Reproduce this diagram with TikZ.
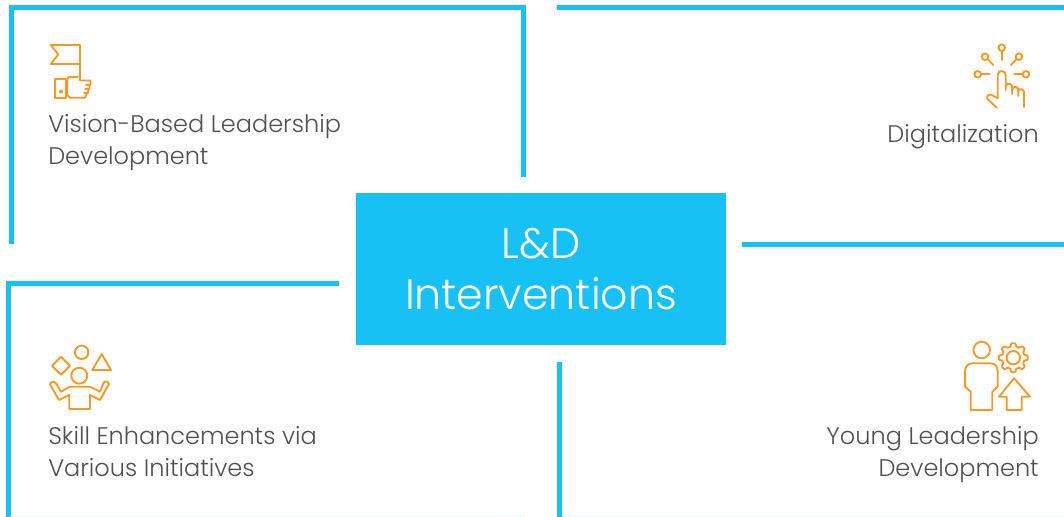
\documentclass[tikz,border=0pt]{standalone}
\usepackage{fontspec}
\setmainfont{Poppins Light}
\usetikzlibrary{positioning}
\definecolor{monCyan}{RGB}{23,193,244}
\definecolor{monOrange}{RGB}{247,152,36}
\definecolor{monGris}{RGB}{80,80,80}
\tikzstyle{frame} = [draw=monCyan, line width=3.75pt]
\tikzstyle{faint} = [draw=monCyan!12, line width=1pt]
\tikzstyle{icon} = [draw=monOrange, line width=1.4pt, line join=round, line cap=round]
\tikzstyle{centre} = [fill=monCyan, text=white, minimum width=277.5pt, minimum height=114pt, inner sep=0pt, align=center, font=\fontsize{32}{38}\selectfont]
\tikzstyle{theme} = [text=monGris, inner sep=0pt, font=\fontsize{18}{24}\selectfont]

\begin{document}
\begin{tikzpicture}[x=0.75pt, y=-0.75pt]
    \useasboundingbox (0,0) rectangle (1064,517);
    % frames
    \draw[frame] (11,244) -- (11,8) -- (523,8) -- (523,177);
    \draw[frame] (557,8) -- (1064,8);
    \draw[frame] (742,244) -- (1064,244);
    \draw[frame] (339,283) -- (8,283) -- (8,517);
    \draw[frame] (559,362) -- (559,517);
    \draw[faint] (10,516.5) -- (525,516.5);
    \draw[faint] (563,516.5) -- (1064,516.5);

    \node [centre] (ld) at (541,269) {L\&D\\Interventions};

    \node [theme, anchor=west, align=left] (vision) at (48,143) {Vision-Based Leadership\\Development};
    \node [theme, anchor=east, align=right] (digital) at (1039,137) {Digitalization};
    \node [theme, anchor=west, align=left] (skill) at (48,452) {Skill Enhancements via\\Various Initiatives};
    \node [theme, anchor=east, align=right] (young) at (1039,455) {Young Leadership\\Development};

    % flag and hand
    \draw[icon] (50.7,45) -- (80,45) -- (80,64) -- (50.7,64) -- (58.3,54.5) -- cycle;
    \draw[icon] (80,64) -- (80,80);
    \draw[icon] (55,79) rectangle (66,97.7);
    \fill[monOrange] (61,91.7) circle (2);
    \draw[icon] (80,80.5) -- (90.5,80.5) -- (90.5,85) -- (86,85) -- (89.5,85) -- (89.5,89) -- (85,89) -- (88.5,89) -- (88,93) -- (84,93) -- (87,93) -- (85,97.7) -- (70,97.7) -- (67.3,95) -- (67.3,79) -- (69,77) -- (78,77);

    % pointing hand
    \foreach \cx/\cy/\ex/\ey/\fx/\fy in {1001.7/47.7/1001.7/51/1001.7/60, 985/56.7/987.5/59/993.3/65, 1019/56.7/1016.5/59/1011/65, 977.7/74.3/981/74.3/989.3/74.3, 1026/74.3/1022.7/74.3/1014.3/74.3} {
      \draw[icon] (\cx,\cy) circle (3.3);
      \draw[icon] (\ex,\ey) -- (\fx,\fy);
    }
    \draw[icon] (997.7,98.3) -- (997.7,75) arc (180:360:4) -- (1005.7,90);
    \draw[icon] (1005.7,86) arc (200:340:3.4) -- (1012.2,94);
    \draw[icon] (1012.2,89) arc (200:340:3.2) -- (1018.2,96);
    \draw[icon] (1018.2,91) arc (200:350:3) -- (1024,107);
    \draw[icon] (997.7,98.3) -- (991.7,95) .. controls (989,93.5) and (986,96) .. (987.5,99) -- (996.7,107.7);

    % juggler
    \draw[icon] (81.7,352.3) circle (6.7);
    \draw[icon] (101.7,354) -- (111,370) -- (92.3,370) -- cycle;
    \draw[icon] (61,356.7) -- (70,365.7) -- (61,374.7) -- (52,365.7) -- cycle;
    \draw[icon] (79.3,375.7) circle (8);
    \draw[icon] (69.3,409) -- (69.3,395) -- (59,400) -- (50,384.3) arc (190:340:3.3) -- (61,391.7) -- (70,386.7) -- (90,386.7) -- (100,391.7) -- (103.3,383.3) arc (200:350:3) -- (100,400) -- (90,395) -- (90,409) -- cycle;

    % person and gear
    \draw[icon] (981.7,350) circle (8.3);
    \draw[icon] (970.7,410) -- (970.7,391.7) -- (965,386.7) -- (965,372) .. controls (965,366) and (968,363.3) .. (973.3,363.3) -- (990,363.3) .. controls (995,363.3) and (997.7,366) .. (997.7,372) -- (997.7,386.7) -- (992.3,391.7) -- (992.3,410) -- cycle;
    \draw[icon] (1013.3,357.7) circle (6.7);
    \draw[icon] plot[samples=121, domain=0:360] ({1013.3+(12.9+max(-1.6,min(1.6,3*cos(8*\x))))*cos(\x)}, {357.7+(12.9+max(-1.6,min(1.6,3*cos(8*\x))))*sin(\x)}) -- cycle;
    \draw[icon] (1014,378.3) -- (1030,396.7) -- (1021.7,396.7) -- (1021.7,410) -- (1006.7,410) -- (1006.7,396.7) -- (999,396.7) -- cycle;
\end{tikzpicture}
\end{document}
